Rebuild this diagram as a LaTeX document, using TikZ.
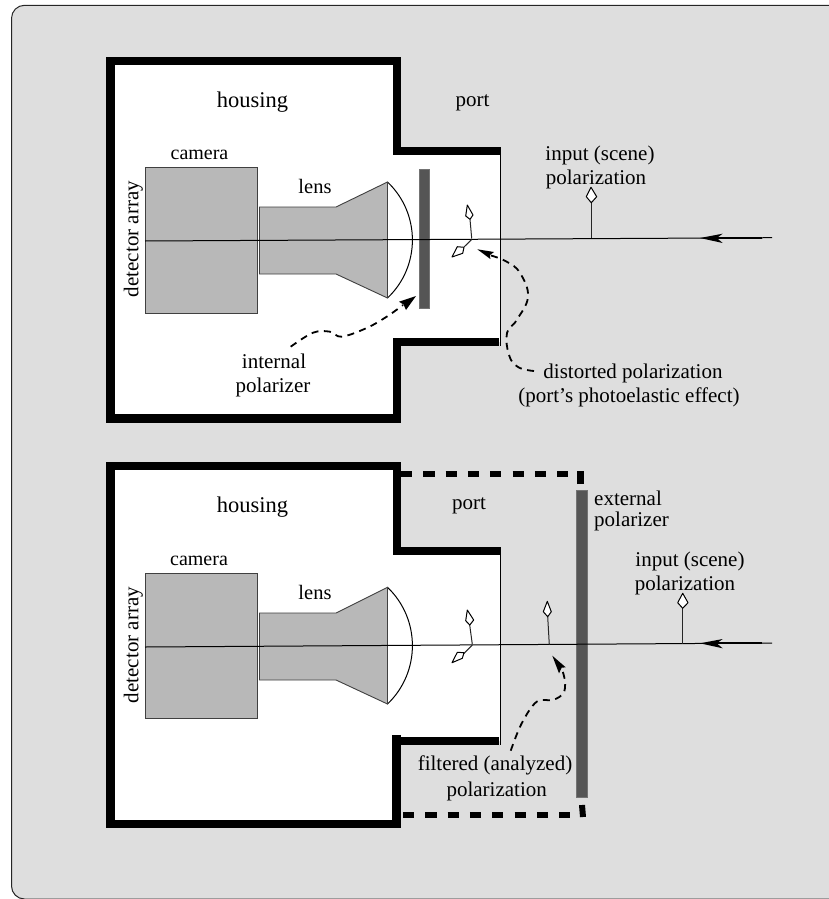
\documentclass[tikz,border=0pt]{standalone}
\usepackage{fontspec}
\setmainfont{Liberation Serif}
\definecolor{panel}{HTML}{DEDEDE}
\definecolor{body}{HTML}{B8B8B8}
\definecolor{pol}{HTML}{555555}
\tikzset{
  wall/.style={line width=8.8pt,line join=miter,line cap=butt,draw=black},
  dashwall/.style={line width=6.4pt,dash pattern=on 11.2pt off 11.1pt,draw=black},
  bodypart/.style={fill=body,draw=black!75,line width=0.9pt},
  polplate/.style={fill=pol,draw=black!55,line width=0.7pt},
  thin axis/.style={line width=1pt,draw=black},
  diam/.style={fill=white,draw=black,line width=1pt,line join=round},
  stemline/.style={line width=1pt,draw=black!85},
  callout/.style={line width=1.8pt,dash pattern=on 7pt off 5.5pt},
  headfill/.style={fill=black},
  lab/.style={font=\fontsize{21pt}{23pt}\selectfont,anchor=base,inner sep=0pt,text=black},
}
\newcommand{\lensshape}[4]{%
  % #1 = top of flare, #2 = bottom of flare, #3,#4 = control levels
  \draw[line width=1pt,fill=white] (387.5,#1) .. controls (420.7,#3) and (420.7,#4) .. (387.5,#2);
}
\begin{document}
\begin{tikzpicture}[x=1pt,y=-1pt]
\useasboundingbox (0,0) rectangle (829,899);
\clip (0,0) rectangle (829,899);
\path[fill=panel,draw=black!85,line width=1pt,rounded corners=13pt] (11.5,5.3) rectangle (860,899);

% ---------- top figure ----------
\path[fill=white] (110.7,61) -- (397,61) -- (397,151) -- (500,151) -- (500,342) -- (397,342) -- (397,418.5) -- (110.7,418.5) -- cycle;
\draw[wall] (500,151) -- (397,151) -- (397,61) -- (110.7,61) -- (110.7,418.5) -- (397,418.5) -- (397,342) -- (499,342);
\draw[line width=1pt] (500,147) -- (500,346);
\lensshape{182}{298}{213.4}{266.6}
\draw[bodypart] (145,167.5) rectangle (257.5,313);
\draw[bodypart] (259.5,207) -- (336,207) -- (387.5,182) -- (387.5,298) -- (336,274) -- (259.5,274) -- cycle;
\draw[polplate] (419,169) rectangle (429.7,308);
\draw[thin axis] (145,241) -- (772,237.7);
\draw[line width=1.8pt] (762,238) -- (716,238);
\fill[headfill] (700,238) -- (722.7,233.7) -- (716.7,238) -- (722.7,243) -- cycle;

\draw[stemline] (471.7,238.5) -- (470,219.3);
\draw[diam] (467.3,205) -- (473,215) -- (470,219.3) -- (465.7,216) -- cycle;
\draw[stemline] (471.7,239.5) -- (464,247);
\draw[diam] (464,247.3) -- (457.3,246.7) -- (452,257) -- (462.7,253.3) -- cycle;
\draw[stemline] (591.3,238) -- (591.3,202.7);
\draw[diam] (591,187.3) -- (596.7,196.7) -- (591.3,202.7) -- (586.3,196.7) -- cycle;

\draw[callout] plot[smooth,tension=0.6] coordinates {(290.7,346.7) (313,332.7) (330,331.7) (341.7,336.7) (366.7,328) (387,316.5) (403,305)};
\fill[headfill] (416,296) -- (399,301.7) -- (403.5,304.5) -- (406,310) -- cycle;
\draw[callout] plot[smooth,tension=0.7] coordinates {(534,371) (518,367) (509,355) (507,333) (516.7,320) (528,296.7) (520,273) (506.7,261.7) (491,255.5)};
\fill[headfill] (477.3,249.3) -- (494,252) -- (490,255) -- (490.3,259) -- cycle;

\node[lab,font=\fontsize{22.5pt}{24pt}\selectfont] (housingA) at (252.5,107) {housing};
\node[lab] (portA) at (472.5,106) {port};
\node[lab,font=\fontsize{20pt}{22pt}\selectfont] (cameraA) at (199.5,159) {camera};
\node[lab,font=\fontsize{20.5pt}{22pt}\selectfont] (lensA) at (315,193) {lens};
\node[lab,rotate=90] (detA) at (138.3,239) {detector array};
\node[lab] (intA) at (274,368) {internal};
\node[lab] (intB) at (273,392) {polarizer};
\node[lab] (inA) at (600,160) {input (scene)};
\node[lab] (inB) at (596,184) {polarization};
\node[lab] (disA) at (633,378) {distorted polarization};
\node[lab] (disB) at (629,402) {(port's photoelastic effect)};

% ---------- bottom figure ----------
\path[fill=white] (110.7,466) -- (397,466) -- (397,551) -- (500,551) -- (500,741) -- (396.5,741) -- (396.5,824) -- (110.7,824) -- cycle;
\draw[wall] (399,551) -- (500,551);
\draw[wall] (397,466) -- (397,555);
\draw[wall] (401,466) -- (110.7,466) -- (110.7,824) -- (396.5,824) -- (396.5,735);
\draw[wall] (396.5,741) -- (499,741);
\draw[line width=1pt] (500,547) -- (500,745);
\draw[dashwall] (401,474) -- (572,474);
\draw[dashwall,dash pattern=on 30pt off 0pt,line width=6.5pt] (580.5,484) -- (580.5,471);
\draw[dashwall] (403,814.7) -- (574,814.7);
\draw[dashwall,dash pattern=on 30pt off 0pt,line width=6pt] (583,817) -- (582,805);
\lensshape{587.3}{704}{619}{672.3}
\draw[bodypart] (145,573) rectangle (257.5,718);
\draw[bodypart] (259.5,613) -- (336,613) -- (387.5,587.3) -- (387.5,704) -- (336,680) -- (259.5,680) -- cycle;
\draw[polplate] (576,490.7) rectangle (587.7,797.7);
\draw[thin axis] (145,647) -- (772,643);
\draw[line width=1.8pt] (762,643.3) -- (716,643.3);
\fill[headfill] (700,643.3) -- (722.7,639) -- (716.7,643.3) -- (722.7,648.3) -- cycle;

\draw[stemline] (472.3,644.3) -- (469.7,625);
\draw[diam] (467.3,610) -- (473.7,620) -- (469.7,625) -- (465.7,620.7) -- cycle;
\draw[stemline] (472.3,645) -- (463.3,654);
\draw[diam] (464,652.7) -- (457.3,652.3) -- (452,662.7) -- (462.3,658.3) -- cycle;
\draw[stemline] (549.3,644.7) -- (547.7,616.7);
\draw[diam] (547.3,601.3) -- (551.3,611.7) -- (547.7,616.7) -- (543.3,611.7) -- cycle;
\draw[stemline] (682.7,643.5) -- (682.7,608.3);
\draw[diam] (682.7,593.3) -- (688,602.7) -- (682.7,608.3) -- (677.7,602.7) -- cycle;

\draw[callout] plot[smooth,tension=0.6] coordinates {(510.7,750.7) (521.7,723.3) (536.7,701.7) (552.7,700) (563.3,693.3) (565,681.7) (562,669)};
\fill[headfill] (552.3,655.7) -- (565.7,667.3) -- (561.7,667.7) -- (559,673.3) -- cycle;

\node[lab,font=\fontsize{22.5pt}{24pt}\selectfont] (housingC) at (252.5,512) {housing};
\node[lab] (portC) at (469,509) {port};
\node[lab,font=\fontsize{20pt}{22pt}\selectfont] (cameraC) at (199,565) {camera};
\node[lab,font=\fontsize{20.5pt}{22pt}\selectfont] (lensC) at (315,599) {lens};
\node[lab,rotate=90] (detC) at (138.3,645) {detector array};
\node[lab,anchor=base west] (extA) at (594,505) {external};
\node[lab,anchor=base west] (extB) at (594,526) {polarizer};
\node[lab] (inC) at (690,566.7) {input (scene)};
\node[lab] (inD) at (685,590) {polarization};
\node[lab] (filA) at (495,770) {filtered (analyzed)};
\node[lab] (filB) at (496.7,796) {polarization};
\end{tikzpicture}
\end{document}
